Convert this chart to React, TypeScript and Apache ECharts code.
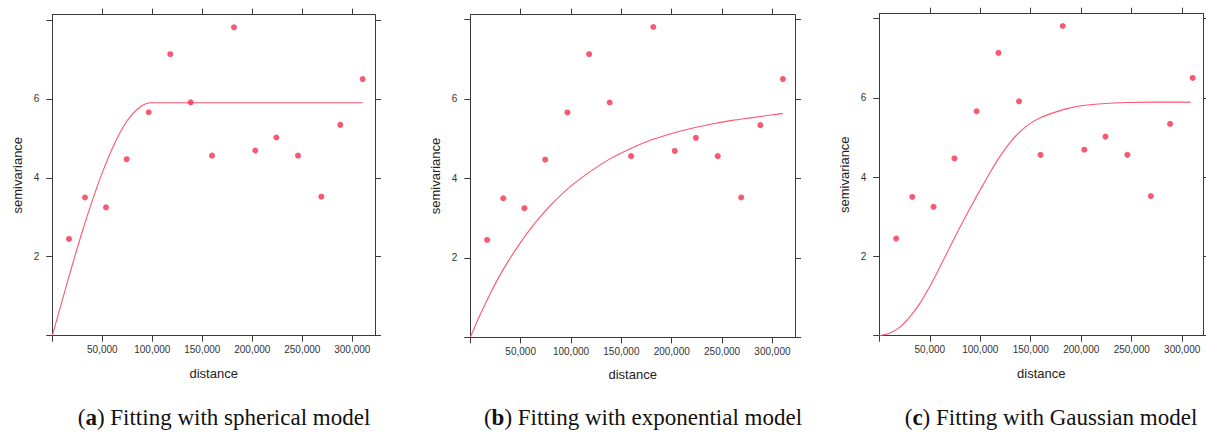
import React, { useEffect, useRef } from "react";
import * as echarts from "echarts";

// Experimental semivariogram (lag distance, semivariance)
const distances = [16700, 32700, 53700, 74400, 96400, 118000, 138400, 159700, 181700, 203000, 224000, 245700, 269000, 288000, 310400];
const semivariances = [2.45, 3.5, 3.25, 4.47, 5.66, 7.13, 5.91, 4.56, 7.81, 4.69, 5.02, 4.56, 3.52, 5.34, 6.5];

// Fitted model curves
const sphericalX = [0, 10000, 20000, 30000, 40000, 50000, 60000, 70000, 80000, 90000, 98000, 105000, 310400];
const sphericalY = [0, 0.9, 1.79, 2.64, 3.42, 4.13, 4.74, 5.25, 5.61, 5.83, 5.9, 5.9, 5.9];

const exponentialX = [0, 10000, 20000, 30000, 40000, 50000, 60000, 70000, 80000, 90000, 100000, 120000, 140000, 160000, 180000, 200000, 220000, 240000, 260000, 280000, 300000, 310300];
const exponentialY = [0, 0.58, 1.11, 1.59, 2.01, 2.39, 2.74, 3.05, 3.33, 3.58, 3.81, 4.19, 4.51, 4.76, 4.97, 5.13, 5.26, 5.37, 5.46, 5.53, 5.6, 5.63];

const gaussianX = [0, 10000, 20000, 30000, 40000, 50000, 60000, 70000, 80000, 90000, 100000, 110000, 120000, 130000, 140000, 150000, 160000, 170000, 185000, 200000, 220000, 245000, 275000, 308400];
const gaussianY = [0, 0.06, 0.21, 0.47, 0.81, 1.24, 1.73, 2.24, 2.74, 3.22, 3.68, 4.13, 4.54, 4.89, 5.16, 5.36, 5.5, 5.6, 5.72, 5.8, 5.85, 5.88, 5.89, 5.89];

// Axis ticks
const xTickValues = [0, 50000, 100000, 150000, 200000, 250000, 300000];
const xLabelValues = [50000, 100000, 150000, 200000, 250000, 300000];
const yTickValues = [0, 2, 4, 6, 8];
const yLabelValues = [2, 4, 6];

const captions = [
  { letter: "a", text: " Fitting with spherical model" },
  { letter: "b", text: " Fitting with exponential model" },
  { letter: "c", text: " Fitting with Gaussian model" },
];

const curves = [
  { xs: sphericalX, ys: sphericalY },
  { xs: exponentialX, ys: exponentialY },
  { xs: gaussianX, ys: gaussianY },
];

// Plot-area boxes (pixels) and axis extents
const panels = [
  { left: 52.3, top: 14.7, width: 322.7, height: 321, xMax: 322700, yMax: 8.13, captionX: 224 },
  { left: 470.3, top: 14.7, width: 324.7, height: 322.6, xMax: 322400, yMax: 8.12, captionX: 643 },
  { left: 879.3, top: 13.7, width: 324, height: 322, xMax: 320900, yMax: 8.12, captionX: 1051 },
];

const AXIS_COLOR = "#3a3a3a";
const POINT_COLOR = "#f5304f";
const LINE_COLOR = "#ff5570";
const SANS = "'Liberation Sans', Arial, sans-serif";

export default function App() {
  const ref = useRef<HTMLDivElement>(null);

  useEffect(() => {
    if (!ref.current) return;
    const chart = echarts.init(ref.current, undefined, { renderer: "svg" });

    const grid: any[] = [];
    const xAxis: any[] = [];
    const yAxis: any[] = [];
    const series: any[] = [];
    const graphic: any[] = [];

    const axisLine = { show: true, onZero: false, lineStyle: { color: AXIS_COLOR, width: 1 } };

    panels.forEach((p, i) => {
      grid.push({ left: p.left, top: p.top, width: p.width, height: p.height, containLabel: false });

      // bottom and top x axes
      xAxis.push({
        type: "value", gridIndex: i, position: "bottom", min: 0, max: p.xMax,
        axisLine, splitLine: { show: false },
        axisTick: { show: true, length: 6, customValues: xTickValues, lineStyle: { color: AXIS_COLOR } },
        axisLabel: {
          show: true, customValues: xLabelValues, margin: 9, fontSize: 10, color: "#333", fontFamily: SANS,
          formatter: (v: number) => v.toLocaleString("en-US"),
        },
        name: "distance", nameLocation: "middle", nameGap: 31,
        nameTextStyle: { fontSize: 13, color: "#222", fontFamily: SANS },
      });
      xAxis.push({
        type: "value", gridIndex: i, position: "top", min: 0, max: p.xMax,
        axisLine, splitLine: { show: false },
        axisTick: { show: true, length: 6, customValues: xLabelValues, lineStyle: { color: AXIS_COLOR } },
        axisLabel: { show: false },
      });

      // left and right y axes
      yAxis.push({
        type: "value", gridIndex: i, position: "left", min: 0, max: p.yMax,
        axisLine, splitLine: { show: false },
        axisTick: { show: true, length: 6, customValues: yTickValues, lineStyle: { color: AXIS_COLOR } },
        axisLabel: { show: true, customValues: yLabelValues, margin: 13, fontSize: 10, color: "#333", fontFamily: SANS },
        name: "semivariance", nameLocation: "middle", nameGap: 28,
        nameTextStyle: { fontSize: 13, color: "#222", fontFamily: SANS },
      });
      yAxis.push({
        type: "value", gridIndex: i, position: "right", min: 0, max: p.yMax,
        axisLine, splitLine: { show: false },
        axisTick: { show: true, length: 6, customValues: yTickValues, lineStyle: { color: AXIS_COLOR } },
        axisLabel: { show: false },
      });

      const c = curves[i];
      series.push({
        type: "line", xAxisIndex: i * 2, yAxisIndex: i * 2,
        data: c.xs.map((x, k) => [x, c.ys[k]]),
        showSymbol: false, smooth: 0.3,
        lineStyle: { color: LINE_COLOR, width: 1.1 },
        z: 2,
      });
      series.push({
        type: "scatter", xAxisIndex: i * 2, yAxisIndex: i * 2,
        data: distances.map((d, k) => [d, semivariances[k]]),
        symbol: "circle", symbolSize: 6,
        itemStyle: { color: POINT_COLOR },
        z: 3,
      });

      const cap = captions[i];
      graphic.push({
        type: "text",
        x: p.captionX, y: 417,
        style: {
          text: `({b|${cap.letter}})${cap.text}`,
          font: "23px 'Liberation Serif', 'Times New Roman', serif",
          fill: "#111",
          align: "center", verticalAlign: "middle",
          rich: { b: { fontWeight: "bold", fontSize: 23, fontFamily: "'Liberation Serif', serif", fill: "#111" } },
        },
      });
    });

    chart.setOption({
      animation: false,
      backgroundColor: "#ffffff",
      grid, xAxis, yAxis, series, graphic,
    });

    return () => chart.dispose();
  }, []);

  return (
    <div
      ref={ref}
      style={{ position: "absolute", left: 0, top: 0, width: 1206, height: 432 }}
    />
  );
}
